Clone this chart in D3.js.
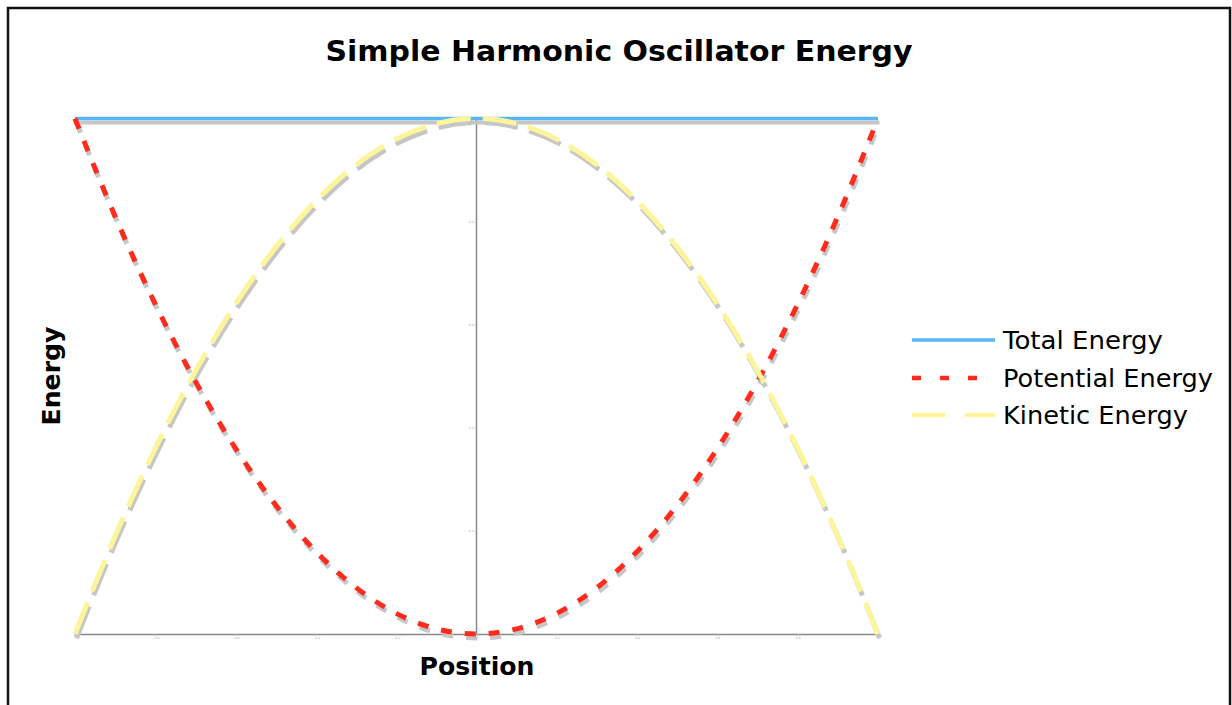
<!DOCTYPE html>
<html><head><meta charset="utf-8">
<script src="https://cdn.jsdelivr.net/npm/d3@7"></script>
<style>html,body{margin:0;padding:0;background:#fff;}svg{display:block;}</style>
</head><body>
<svg id="chart" width="1232" height="705"></svg>
<script>
const positions = [-1,-0.9,-0.8,-0.7,-0.6,-0.5,-0.4,-0.3,-0.2,-0.1,0,0.1,0.2,0.3,0.4,0.5,0.6,0.7,0.8,0.9,1];
const totalEnergy = [1,1,1,1,1,1,1,1,1,1,1,1,1,1,1,1,1,1,1,1,1];
const potentialEnergy = [1,0.81,0.64,0.49,0.36,0.25,0.16,0.09,0.04,0.01,0,0.01,0.04,0.09,0.16,0.25,0.36,0.49,0.64,0.81,1];
const kineticEnergy = [0,0.19,0.36,0.51,0.64,0.75,0.84,0.91,0.96,0.99,1,0.99,0.96,0.91,0.84,0.75,0.64,0.51,0.36,0.19,0];
const xTicks = [-1,-0.8,-0.6,-0.4,-0.2,0,0.2,0.4,0.6,0.8,1];
const yTicks = [0.2,0.4,0.6,0.8];
const seriesNames = ["Total Energy","Potential Energy","Kinetic Energy"];
const seriesColors = ["#59b6f6","#ff2b1c","#fdf59b"];
const seriesDash = [null,"11,13","34,12"];

const svg = d3.select("#chart");
svg.append("rect").attr("x",8).attr("y",8).attr("width",1222).attr("height",730)
  .attr("fill","none").attr("stroke","#111").attr("stroke-width",2.5);

const x = d3.scaleLinear().domain([-1,1]).range([75,878]);
const y = d3.scaleLinear().domain([0,1]).range([634,118.5]);

// axes
const gx = svg.append("g").attr("transform",`translate(0,${y(0)})`)
  .call(d3.axisBottom(x).tickValues(xTicks).tickSize(2).tickPadding(1).tickFormat(d3.format("")));
const gy = svg.append("g").attr("transform",`translate(${x(0)},0)`)
  .call(d3.axisLeft(y).tickValues(yTicks).tickSize(2).tickPadding(1).tickFormat(d3.format("")));
[gx,gy].forEach(g=>{
  g.select(".domain").attr("stroke","#888").attr("stroke-width",1.5);
  g.selectAll(".tick line").attr("stroke","#bbb");
  g.selectAll(".tick text").attr("fill","#aaa").style("font-size","3px").style("font-family","DejaVu Sans");
});
gy.select(".domain").attr("d",`M0,${y(1)}V${y(0)}`);

const data = [totalEnergy,potentialEnergy,kineticEnergy];
const line = d3.line().x((d,i)=>x(positions[i])).y(d=>y(d)).curve(d3.curveMonotoneX);

const shadows = svg.append("g").attr("transform","translate(1.5,4)");
data.forEach((vals,k)=>{
  shadows.append("path").attr("d",line(vals)).attr("fill","none")
    .attr("stroke","#c6c6c6").attr("stroke-width",k===0?4:5)
    .attr("stroke-dasharray",seriesDash[k]);
});
data.forEach((vals,k)=>{
  svg.append("path").attr("d",line(vals)).attr("fill","none")
    .attr("stroke",seriesColors[k]).attr("stroke-width",k===0?3.5:5)
    .attr("stroke-dasharray",seriesDash[k]);
});

// title & labels
svg.append("text").attr("x",619).attr("y",61).attr("text-anchor","middle")
  .style("font-family","DejaVu Sans").style("font-weight","bold").style("font-size","28px")
  .attr("textLength",587).attr("lengthAdjust","spacingAndGlyphs")
  .text("Simple Harmonic Oscillator Energy");
svg.append("text").attr("x",477).attr("y",675).attr("text-anchor","middle")
  .style("font-family","DejaVu Sans").style("font-weight","bold").style("font-size","24px")
  .attr("textLength",115).attr("lengthAdjust","spacingAndGlyphs")
  .text("Position");
svg.append("text").attr("transform","translate(60,376) rotate(-90)").attr("text-anchor","middle")
  .style("font-family","DejaVu Sans").style("font-weight","bold").style("font-size","24px")
  .attr("textLength",99).attr("lengthAdjust","spacingAndGlyphs")
  .text("Energy");

// legend
const legY = [340,378,415];
const legLen = [160,210,185];
seriesNames.forEach((name,k)=>{
  svg.append("line").attr("x1",912).attr("x2",995).attr("y1",legY[k]).attr("y2",legY[k])
    .attr("stroke",seriesColors[k]).attr("stroke-width",k===0?3.5:4.5)
    .attr("stroke-dasharray",k===1?"9,19":(k===2?"33,20":null));
  svg.append("text").attr("x",1003).attr("y",legY[k]+9)
    .style("font-family","DejaVu Sans").style("font-size","24px").attr("fill","#000")
    .attr("textLength",legLen[k]).attr("lengthAdjust","spacingAndGlyphs")
    .text(name);
});
</script>
</body></html>
